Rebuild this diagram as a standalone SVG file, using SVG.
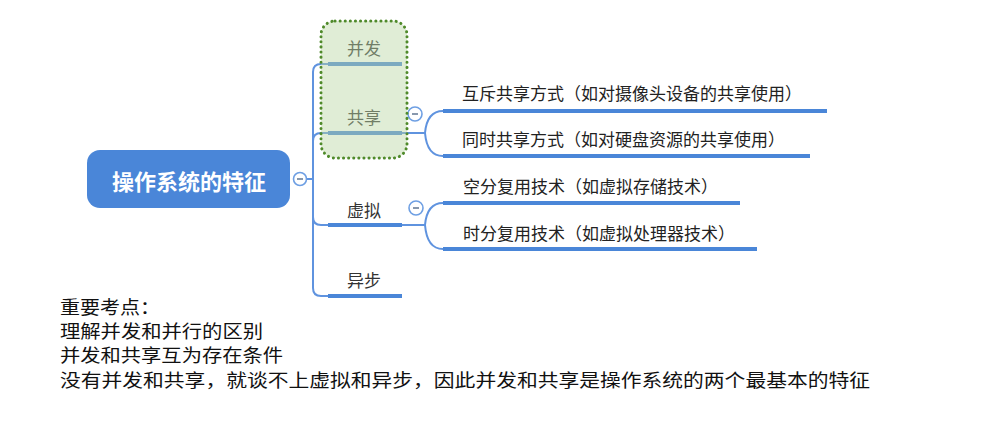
<svg xmlns="http://www.w3.org/2000/svg" width="996" height="430" viewBox="0 0 996 430">
<style>
.trunk{fill:none;stroke:#5f93df;stroke-width:2;stroke-linecap:round}
.ul{fill:none;stroke:#4a86d8;stroke-width:4}
.br{font-family:"Noto Sans CJK SC",sans-serif;font-size:17px;fill:#333;text-anchor:middle}
.sub{font-family:"Noto Sans CJK SC",sans-serif;font-size:17px;fill:#222}
.note{font-family:"Liberation Serif","Noto Sans CJK SC",serif;font-size:18px;fill:#111}
.cc{fill:#fff;stroke:#6e9fe3;stroke-width:1.6}
.cm{stroke:#8898ad;stroke-width:2}
</style>
<g id="connectors">
<path class="trunk" d="M 306 179 H 313"/>
<path class="trunk" d="M 313 179 V 72 Q 313 64 321 64 H 328"/>
<path class="trunk" d="M 313 179 V 141 Q 313 133 321 133 H 328"/>
<path class="trunk" d="M 313 179 V 217 Q 313 225 321 225 H 328"/>
<path class="trunk" d="M 313 179 V 288 Q 313 296 321 296 H 328"/>
<path class="trunk" d="M 402 133 H 425 M 425 133 Q 427 111 443 111 M 425 133 Q 427 156 443 156"/>
<path class="trunk" d="M 402 225 H 425 M 425 225 Q 427 203 443 203 M 425 225 Q 427 249 443 249"/>
</g>
<g id="root">
<rect x="87" y="150" width="203" height="58" rx="13" fill="#4a86d8"/>
<text x="189" y="190" font-family="'Noto Sans CJK SC',sans-serif" font-size="22" font-weight="bold" fill="#fff" text-anchor="middle">操作系统的特征</text>
<circle class="cc" cx="300" cy="179" r="6.5"/>
<path class="cm" d="M 297 179 H 303"/>
</g>
<g id="n-bingfa">
<path class="ul" d="M 328 64 H 402"/>
<text class="br" x="364" y="55">并发</text>
</g>
<g id="n-gongxiang">
<path class="ul" d="M 328 133 H 402"/>
<text class="br" x="364" y="124">共享</text>
<circle class="cc" cx="415" cy="114" r="7"/>
<path class="cm" d="M 412 114 H 418"/>
</g>
<g id="n-huchi">
<path class="ul" d="M 443 111 H 827"/>
<text class="sub" x="462" y="100">互斥共享方式（如对摄像头设备的共享使用）</text>
</g>
<g id="n-tongshi">
<path class="ul" d="M 443 156 H 810"/>
<text class="sub" x="462" y="146">同时共享方式（如对硬盘资源的共享使用）</text>
</g>
<g id="n-xuni">
<path class="ul" d="M 328 225 H 402"/>
<text class="br" x="364" y="217">虚拟</text>
<circle class="cc" cx="416" cy="208" r="7"/>
<path class="cm" d="M 413 208 H 419"/>
</g>
<g id="n-kongfen">
<path class="ul" d="M 443 203 H 740"/>
<text class="sub" x="463" y="193">空分复用技术（如虚拟存储技术）</text>
</g>
<g id="n-shifen">
<path class="ul" d="M 443 249 H 757"/>
<text class="sub" x="463" y="240">时分复用技术（如虚拟处理器技术）</text>
</g>
<g id="n-yibu">
<path class="ul" d="M 328 296 H 402"/>
<text class="br" x="364" y="287">异步</text>
</g>
<g id="boundary">
<rect x="321" y="21" width="86" height="137" rx="14" fill="#bad7a4" fill-opacity="0.45" stroke="#4f8a2a" stroke-width="3" stroke-dasharray="0.1 5" stroke-linecap="round"/>
</g>
<g id="notes">
<text class="note" x="60" y="314" textLength="100" lengthAdjust="spacingAndGlyphs">重要考点：</text>
<text class="note" x="60" y="338" textLength="203" lengthAdjust="spacingAndGlyphs">理解并发和并行的区别</text>
<text class="note" x="60" y="362" textLength="223" lengthAdjust="spacingAndGlyphs">并发和共享互为存在条件</text>
<text class="note" x="60" y="387" textLength="810" lengthAdjust="spacingAndGlyphs">没有并发和共享，就谈不上虚拟和异步，因此并发和共享是操作系统的两个最基本的特征</text>
</g>
</svg>
